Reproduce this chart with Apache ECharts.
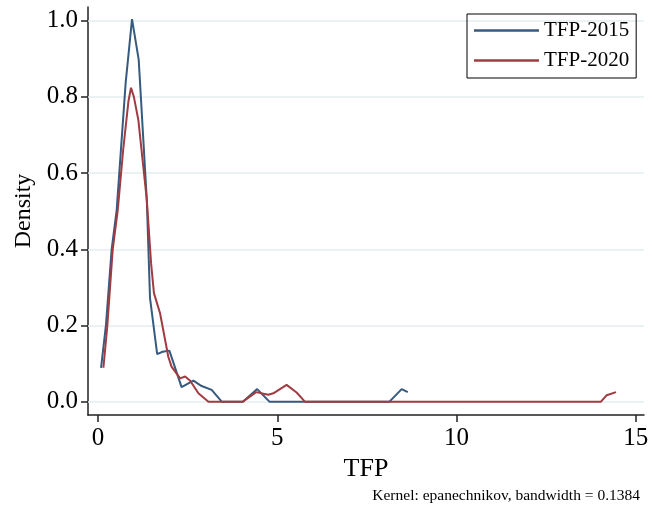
<!DOCTYPE html>
<html>
<head>
<meta charset="utf-8">
<script src="https://cdn.jsdelivr.net/npm/echarts@6/dist/echarts.min.js"></script>
<style>
  html, body { margin: 0; padding: 0; background: #fff; }
  #chart { width: 652px; height: 506px; }
</style>
</head>
<body>
<div id="chart"></div>
<script>
// kernel density estimates
var x2015 = [0.084, 0.22, 0.38, 0.52, 0.77, 0.948, 1.135, 1.36, 1.45, 1.65, 1.80, 1.99, 2.33, 2.66, 2.89, 3.17, 3.45, 4.04, 4.44, 4.78, 8.13, 8.47, 8.64];
var y2015 = [0.089, 0.20, 0.40, 0.503, 0.836, 1.004, 0.897, 0.53, 0.272, 0.125, 0.131, 0.134, 0.038, 0.055, 0.041, 0.031, 0.0, 0.0, 0.033, 0.0, 0.0, 0.033, 0.025];

var x2020 = [0.15, 0.26, 0.41, 0.55, 0.70, 0.85, 0.92, 1.00, 1.125, 1.36, 1.48, 1.56, 1.73, 1.96, 2.05, 2.29, 2.43, 2.57, 2.80, 3.08, 4.04, 4.41, 4.75, 4.89, 5.26, 5.54, 5.77, 14.03, 14.19, 14.45];
var y2020 = [0.089, 0.20, 0.40, 0.503, 0.66, 0.79, 0.824, 0.80, 0.739, 0.53, 0.363, 0.285, 0.232, 0.118, 0.092, 0.061, 0.066, 0.055, 0.022, 0.0, 0.0, 0.025, 0.018, 0.022, 0.044, 0.024, 0.0, 0.0, 0.017, 0.025];

var xTicks = [0, 5, 10, 15];
var yTicks = [0, 0.2, 0.4, 0.6, 0.8, 1.0];

var zip = function (xs, ys) {
  return xs.map(function (v, i) { return [v, ys[i]]; });
};

var serif = 'Liberation Serif';
var chart = echarts.init(document.getElementById('chart'));

chart.setOption({
  animation: false,
  backgroundColor: '#fff',
  grid: { left: 88, right: 8, top: 7, bottom: 91 },
  legend: {
    orient: 'vertical',
    left: 467,
    top: 14,
    padding: [5, 7, 6, 7],
    icon: 'rect',
    itemWidth: 65,
    itemHeight: 2.5,
    itemGap: 7,
    borderColor: '#000',
    borderWidth: 1,
    borderRadius: 0,
    textStyle: { fontFamily: serif, fontSize: 21, color: '#000', lineHeight: 23 },
    data: ['TFP-2015', 'TFP-2020']
  },
  xAxis: {
    type: 'value',
    min: -0.28,
    max: 15.23,
    name: 'TFP',
    nameLocation: 'middle',
    nameGap: 34,
    nameTextStyle: { fontFamily: serif, fontSize: 26, color: '#000' },
    axisLine: { onZero: false, lineStyle: { color: '#222', width: 1.5 } },
    axisTick: { customValues: xTicks, length: 7, lineStyle: { color: '#222', width: 1.5 } },
    axisLabel: {
      customValues: xTicks,
      margin: 11,
      fontFamily: serif,
      fontSize: 25,
      color: '#000'
    },
    splitLine: { show: false }
  },
  yAxis: {
    type: 'value',
    min: -0.035,
    max: 1.036,
    name: 'Density',
    nameLocation: 'middle',
    nameRotate: 90,
    nameGap: 52,
    nameTextStyle: { fontFamily: serif, fontSize: 24, color: '#000' },
    axisLine: { show: true, onZero: false, lineStyle: { color: '#222', width: 1.5 } },
    axisTick: { show: true, customValues: yTicks, length: 7, lineStyle: { color: '#222', width: 1.5 } },
    axisLabel: {
      customValues: yTicks,
      margin: 10,
      fontFamily: serif,
      fontSize: 25,
      color: '#000',
      formatter: function (v) { return v.toFixed(1); }
    },
    splitLine: { show: false }
  },
  series: [
    {
      name: 'TFP-2015',
      type: 'line',
      symbol: 'none',
      color: '#375a7f',
      lineStyle: { width: 2, color: '#375a7f' },
      data: zip(x2015, y2015),
      z: 3,
      markLine: {
        silent: true,
        symbol: 'none',
        label: { show: false },
        lineStyle: { color: '#e4eef1', width: 1.5, type: 'solid' },
        z: 1,
        data: yTicks.map(function (v) { return { yAxis: v }; })
      }
    },
    {
      name: 'TFP-2020',
      type: 'line',
      symbol: 'none',
      color: '#a03c41',
      lineStyle: { width: 2, color: '#a03c41' },
      data: zip(x2020, y2020),
      z: 4
    }
  ],
  graphic: [
    {
      type: 'text',
      right: 12,
      top: 488,
      style: {
        text: 'Kernel: epanechnikov, bandwidth = 0.1384',
        fontFamily: serif,
        fontSize: 15.5,
        fill: '#000'
      }
    }
  ]
});
</script>
</body>
</html>
